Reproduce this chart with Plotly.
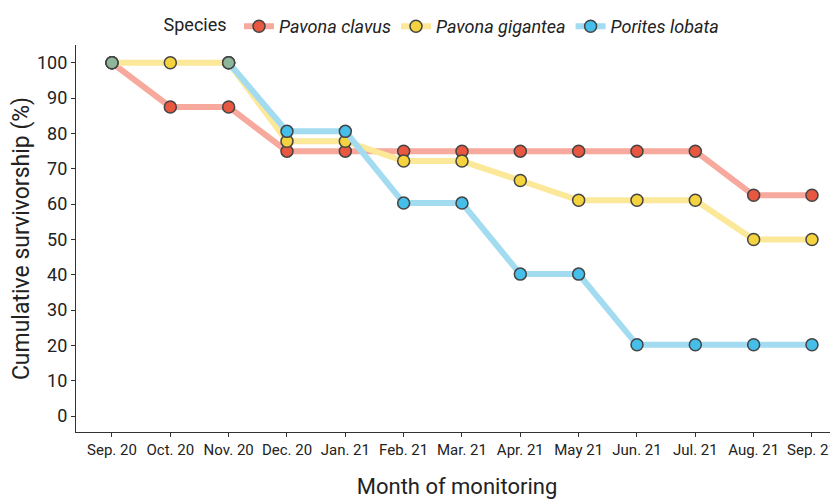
import plotly.graph_objects as go

months = ["Sep. 20", "Oct. 20", "Nov. 20", "Dec. 20", "Jan. 21", "Feb. 21", "Mar. 21",
          "Apr. 21", "May 21", "Jun. 21", "Jul. 21", "Aug. 21", "Sep. 21"]
pavona_clavus = [100, 87.5, 87.5, 75, 75, 75, 75, 75, 75, 75, 75, 62.5, 62.5]
pavona_gigantea = [100, 100, 100, 77.8, 77.8, 72.2, 72.2, 66.7, 61.1, 61.1, 61.1, 50, 50]
porites_lobata = [100, None, 100, 80.6, 80.6, 60.3, 60.3, 40.2, 40.2, 20.2, 20.2, 20.2, 20.2]
y_ticks = [0, 10, 20, 30, 40, 50, 60, 70, 80, 90, 100]

FONT = "Roboto, sans-serif"

series = [
    ("Pavona clavus", pavona_clavus, "#F6A99C", "#E8573F"),
    ("Pavona gigantea", pavona_gigantea, "#FBE899", "#F5D33F"),
    ("Porites lobata", porites_lobata, "#A3DBF1", "#45BEEA"),
]
xs = list(range(len(months)))

fig = go.Figure()
for name, vals, lc, mc in series:
    fig.add_trace(go.Scatter(
        x=xs, y=vals, mode="lines+markers",
        name=f"<i>{name}</i>",
        line=dict(color=lc, width=6),
        marker=dict(color=mc, size=12, line=dict(color="#444444", width=1.5)),
        connectgaps=False,
    ))

# blended markers where Porites lobata overlaps Pavona gigantea
ov_x = [i for i in xs if porites_lobata[i] is not None and porites_lobata[i] == pavona_gigantea[i]]
ov_y = [porites_lobata[i] for i in ov_x]
fig.add_trace(go.Scatter(
    x=ov_x, y=ov_y, mode="markers", showlegend=False, hoverinfo="skip",
    marker=dict(color="#8DB69B", size=12, line=dict(color="#444444", width=1.5)),
))

fig.update_layout(
    width=830, height=492,
    margin=dict(l=68, r=0, t=33, b=68),
    plot_bgcolor="white", paper_bgcolor="white",
    font=dict(family=FONT, color="#222222"),
    showlegend=True,
    legend=dict(
        orientation="h", xref="container", yref="container",
        x=0.185, y=1.0, xanchor="left", yanchor="top",
        font=dict(size=18, family=FONT, color="#222222"),
        title=dict(text="Species ", font=dict(size=18, family=FONT)),
        itemwidth=30, tracegroupgap=0,
    ),
    xaxis=dict(
        range=[-0.617, 12.446], automargin=False,
        tickmode="array", tickvals=xs, ticktext=months,
        showline=True, linecolor="#333333", linewidth=1.2,
        ticks="outside", ticklen=4, tickcolor="#333333",
        showgrid=False, zeroline=False,
        tickfont=dict(size=15, family=FONT, color="#222222"),
        title=dict(text="Month of monitoring", font=dict(size=22, family=FONT), standoff=20),
    ),
    yaxis=dict(
        range=[-4.48, 105.04], automargin=False,
        tickmode="array", tickvals=y_ticks,
        showline=True, linecolor="#333333", linewidth=1.2,
        ticks="outside", ticklen=4, tickcolor="#333333",
        showgrid=False, zeroline=False,
        tickfont=dict(size=18, family=FONT, color="#222222"),
        title=dict(text="Cumulative survivorship (%)", font=dict(size=23, family=FONT), standoff=10),
    ),
)

fig.write_html("out.html")
